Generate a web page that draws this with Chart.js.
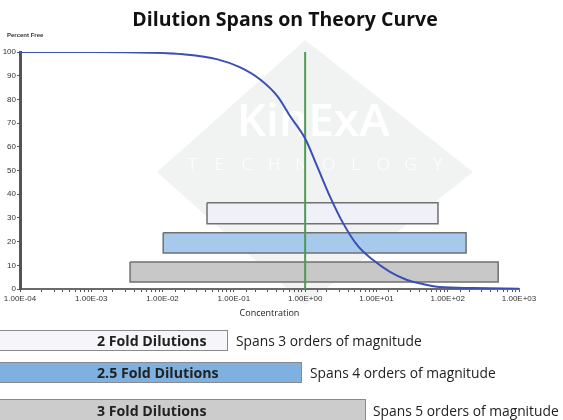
<!DOCTYPE html>
<html>
<head>
<meta charset="utf-8">
<script src="https://cdn.jsdelivr.net/npm/chart.js@4/dist/chart.umd.min.js"></script>
<style>
  html,body{margin:0;padding:0;background:#fff;overflow:hidden;}
  #wrap{position:relative;width:563px;height:420px;font-family:"Open Sans",sans-serif;}
  canvas{position:absolute;left:0;top:0;}
  .t{position:absolute;white-space:nowrap;}
  .b{font-size:14.2px;font-weight:700;color:#222;}
  .s{font-size:13.8px;color:#222;}
  .box{position:absolute;border:1px solid #8a8a8a;box-sizing:border-box;}
</style>
</head>
<body>
<div id="wrap">
  <canvas id="c" width="563" height="420"></canvas>
  <div class="t" style="left:0;width:570px;top:5px;text-align:center;font-weight:700;font-size:19.5px;color:#111;">Dilution Spans on Theory Curve</div>
  <div class="t" style="left:7px;top:32px;font-size:6px;font-weight:700;color:#333;font-family:'Liberation Sans Narrow','Liberation Sans',sans-serif;">Percent Free</div>

  <div class="box" style="left:-80px;width:308px;top:330px;height:21px;background:#f5f5fa;"></div>
  <div class="t b" style="left:97px;top:330px;line-height:21px;">2 Fold Dilutions</div>
  <div class="t s" style="left:236px;top:330px;line-height:21px;">Spans 3 orders of magnitude</div>

  <div class="box" style="left:-80px;width:382px;top:362px;height:21px;background:#7eb0e0;"></div>
  <div class="t b" style="left:97px;top:362px;line-height:21px;">2.5 Fold Dilutions</div>
  <div class="t s" style="left:310px;top:362px;line-height:21px;">Spans 4 orders of magnitude</div>

  <div class="box" style="left:-80px;width:446px;top:399px;height:30px;background:#cccccc;"></div>
  <div class="t b" style="left:97px;top:400px;line-height:21px;">3 Fold Dilutions</div>
  <div class="t s" style="left:373px;top:400px;line-height:21px;">Spans 5 orders of magnitude</div>
</div>
<script>
// ---- data ----
const concentration = [0.0001, 0.001, 0.0068, 0.0195, 0.059, 0.123, 0.234, 0.41, 0.62, 1.0, 1.48, 2.24, 3.39, 5.37, 8.9, 15.5, 26.9, 44.7, 77.6, 229, 1000];
const percentFree   = [100, 100, 99.7, 99.0, 96.9, 93.5, 88.4, 81.3, 72.8, 63.5, 51.6, 38.9, 27.9, 18.5, 12.3, 7.2, 3.8, 2.1, 0.8, 0.4, 0.1];

const spanNames  = ['2 Fold Dilutions', '2.5 Fold Dilutions', '3 Fold Dilutions'];
const spanStart  = [0.042, 0.0102, 0.0035];
const spanEnd    = [73, 181, 510];
const spanTop    = [36.4, 23.7, 11.4];
const spanBottom = [27.5, 15.2, 3.0];
const spanColors = ['#f0f0f8', '#a6c9ec', '#c8c8c8'];

const markerConc = 1.0;
const markerRange = [0, 100];

const xTickLabels = ['1.00E-04','1.00E-03','1.00E-02','1.00E-01','1.00E+00','1.00E+01','1.00E+02','1.00E+03'];
const xTickExponents = [-4,-3,-2,-1,0,1,2,3];
const yTickLabels = ['0','10','20','30','40','50','60','70','80','90','100'];

// ---- build datasets ----
const curveData = concentration.map((c,i)=>({x:c, y:percentFree[i]}));
const spanSets = spanNames.map((n,i)=>({
  label:n,
  data:[
    {x:spanStart[i], y:spanTop[i]},
    {x:spanEnd[i], y:spanTop[i]},
    {x:spanEnd[i], y:spanBottom[i]},
    {x:spanStart[i], y:spanBottom[i]},
    {x:spanStart[i], y:spanTop[i]}
  ],
  showLine:true, fill:'shape', backgroundColor:spanColors[i],
  borderColor:'#707070', borderWidth:1.5, pointRadius:0, tension:0, order:3
}));

const watermark = {
  id:'watermark',
  beforeDraw(chart){
    const ctx = chart.ctx;
    const cx = chart.scales.x.getPixelForValue(1);
    ctx.save();
    ctx.fillStyle = '#f1f3f3';
    ctx.beginPath();
    ctx.moveTo(cx, 40);
    ctx.lineTo(cx+168, 172);
    ctx.lineTo(cx, 305);
    ctx.lineTo(cx-148, 172);
    ctx.closePath();
    ctx.fill();
    ctx.fillStyle = '#ffffff';
    ctx.textAlign = 'center';
    ctx.textBaseline = 'middle';
    ctx.font = '600 46px "Open Sans", sans-serif';
    ctx.fillText('KinExA', cx+8, 123);
    ctx.font = '300 17px "Open Sans", sans-serif';
    const letters = 'TECHNOLOGY'.split('');
    letters.forEach((l,i)=>{ ctx.fillText(l, cx-113 + i*27.3, 165); });
    ctx.restore();
  }
};

new Chart(document.getElementById('c'), {
  type:'scatter',
  data:{
    datasets:[
      {label:'Theory', data:curveData, showLine:true, borderColor:'#3b4fb4', borderWidth:2,
       pointRadius:0, cubicInterpolationMode:'monotone', fill:false, order:0},
      {label:'Marker', data:[{x:markerConc,y:markerRange[0]},{x:markerConc,y:markerRange[1]}],
       showLine:true, borderColor:'#4f9a55', borderWidth:2, pointRadius:0, fill:false, order:1},
      ...spanSets
    ]
  },
  options:{
    responsive:false, animation:false,
    layout:{padding:{top:52, left:0, right:44, bottom:101}},
    plugins:{legend:{display:false}, tooltip:{enabled:false}, title:{display:false}},
    scales:{
      x:{
        type:'logarithmic', min:1e-4, max:1e3,
        afterFit(s){ s.height = 30; },
        border:{color:'#6a6a6a', width:2},
        grid:{drawOnChartArea:false, drawTicks:true, tickLength:3, color:'#555'},
        ticks:{
          autoSkip:false, maxRotation:0, padding:2, color:'#333',
          font:{family:"'Liberation Sans Narrow','Liberation Sans',sans-serif", size:8},
          callback(v){
            const e = Math.log10(v);
            const r = Math.round(e);
            if (Math.abs(e-r) > 1e-6) return '';
            const k = xTickExponents.indexOf(r);
            return k >= 0 ? xTickLabels[k] : '';
          }
        },
        title:{display:true, text:'Concentration', color:'#222', padding:{top:0,bottom:0},
               font:{family:"'Open Sans',sans-serif", size:9}}
      },
      y:{
        min:0, max:100,
        afterFit(s){ s.width = 20; },
        border:{color:'#555', width:3},
        grid:{drawOnChartArea:false, drawTicks:true, tickLength:3, color:'#555'},
        ticks:{
          stepSize:5, padding:1, color:'#333',
          font:{family:"'Liberation Sans Narrow','Liberation Sans',sans-serif", size:8},
          callback(v){
            if (v % 10 !== 0) return '';
            return yTickLabels[v/10];
          }
        }
      }
    }
  },
  plugins:[watermark]
});
</script>
</body>
</html>
